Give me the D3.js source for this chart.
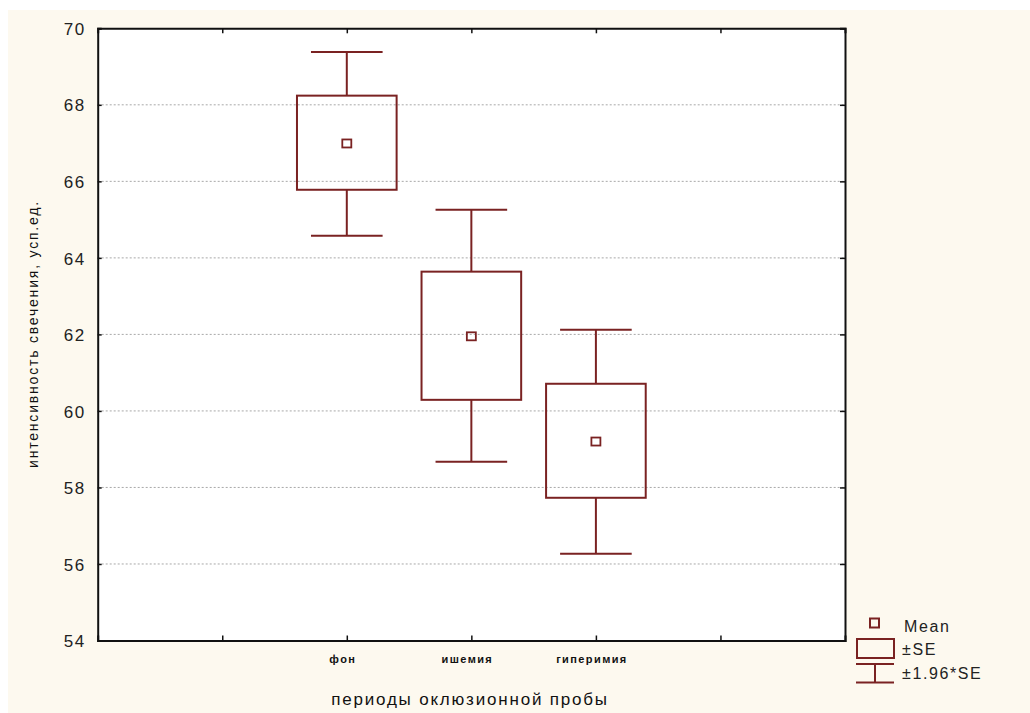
<!DOCTYPE html>
<html><head><meta charset="utf-8">
<script src="https://cdn.jsdelivr.net/npm/d3@7"></script>
<style>body{margin:0;background:#fff}svg{display:block}</style>
</head><body>
<script>
// Data
const categories = ["фон", "ишемия", "гиперимия"];
const catPositions = [2, 3, 4];
const means = [66.99, 61.95, 59.20];
const seLow = [65.78, 60.29, 57.73];
const seHigh = [68.24, 63.64, 60.71];
const ciLow = [64.58, 58.67, 56.27];
const ciHigh = [69.38, 65.26, 62.12];
const yTicks = [54, 56, 58, 60, 62, 64, 66, 68, 70];
const xTicks = [1, 2, 3, 4, 5];
const legendLabels = ["Mean", "±SE", "±1.96*SE"];

const W = 1030, H = 713;
const color = "#7a2222";
const svg = d3.select("body").append("svg").attr("width", W).attr("height", H);

svg.append("rect").attr("x", 8).attr("y", 10).attr("width", W - 8).attr("height", H - 10).attr("fill", "#fdf9ef");

const m = {left: 97.7, right: 845, top: 28.3, bottom: 640.5};
const x = d3.scaleLinear().domain([0, 6]).range([m.left, m.right]);
const y = d3.scaleLinear().domain([54, 70]).range([m.bottom, m.top]);

svg.append("rect").attr("x", m.left).attr("y", m.top).attr("width", m.right - m.left).attr("height", m.bottom - m.top).attr("fill", "#fff");

// gridlines
svg.append("g").selectAll("line").data(yTicks.filter(t => t > 54 && t < 70)).join("line")
  .attr("x1", m.left).attr("x2", m.right).attr("y1", d => y(d)).attr("y2", d => y(d))
  .attr("stroke", "#a8a8a8").attr("stroke-width", 1).attr("stroke-dasharray", "2,2");

// axes
const axL = svg.append("g").attr("transform", `translate(${m.left},0)`)
  .call(d3.axisLeft(y).tickValues(yTicks).tickSize(-4).tickPadding(12).tickFormat(d3.format("d")));
const axR = svg.append("g").attr("transform", `translate(${m.right},0)`)
  .call(d3.axisRight(y).tickValues(yTicks).tickSize(-5).tickFormat(""));
const axT = svg.append("g").attr("transform", `translate(0,${m.top})`)
  .call(d3.axisTop(x).tickValues(xTicks).tickSize(-5).tickFormat(""));
const axB = svg.append("g").attr("transform", `translate(0,${m.bottom})`)
  .call(d3.axisBottom(x).tickValues(xTicks).tickSize(-5).tickFormat(""));
[axL, axR, axT, axB].forEach(a => {
  a.select(".domain").attr("stroke", "#111").attr("stroke-width", 2);
  a.selectAll(".tick line").attr("stroke", "#111").attr("stroke-width", 1.5);
});
axL.selectAll(".tick text").attr("font-family", "Liberation Sans, Arial, sans-serif")
  .attr("font-size", 17).attr("fill", "#222").attr("letter-spacing", 1.5).attr("dy", "0.36em");

// category labels
svg.append("g").selectAll("text").data(categories).join("text")
  .attr("x", (d, i) => x(catPositions[i]) - 4).attr("y", 663)
  .attr("text-anchor", "middle").attr("font-family", "Liberation Sans, Arial, sans-serif")
  .attr("font-weight", "bold").attr("font-size", 11).attr("letter-spacing", 1.4)
  .attr("fill", "#111").text(d => d);

// axis titles
svg.append("text").attr("x", 470).attr("y", 705).attr("text-anchor", "middle")
  .attr("font-family", "Liberation Sans, Arial, sans-serif").attr("font-size", 17)
  .attr("letter-spacing", 1.8).attr("fill", "#111").text("периоды оклюзионной пробы");
svg.append("text").attr("transform", "translate(38,334) rotate(-90)").attr("text-anchor", "middle")
  .attr("font-family", "Liberation Sans, Arial, sans-serif").attr("font-size", 14)
  .attr("letter-spacing", 1.8).attr("fill", "#111").text("интенсивность свечения, усп.ед.");

// box plots
const bw = (x(1) - x(0)) * 0.8, cw = (x(1) - x(0)) * 0.575;
const g = svg.append("g").attr("stroke", color).attr("stroke-width", 2).attr("fill", "none");
categories.forEach((c, i) => {
  const cx = x(catPositions[i]);
  g.append("line").attr("x1", cx).attr("x2", cx).attr("y1", y(ciHigh[i])).attr("y2", y(seHigh[i]));
  g.append("line").attr("x1", cx).attr("x2", cx).attr("y1", y(seLow[i])).attr("y2", y(ciLow[i]));
  g.append("line").attr("x1", cx - cw / 2).attr("x2", cx + cw / 2).attr("y1", y(ciHigh[i])).attr("y2", y(ciHigh[i]));
  g.append("line").attr("x1", cx - cw / 2).attr("x2", cx + cw / 2).attr("y1", y(ciLow[i])).attr("y2", y(ciLow[i]));
  g.append("rect").attr("x", cx - bw / 2).attr("y", y(seHigh[i])).attr("width", bw).attr("height", y(seLow[i]) - y(seHigh[i]));
  g.append("rect").attr("x", cx - 4.5).attr("y", y(means[i]) - 4).attr("width", 9).attr("height", 8).attr("stroke-width", 1.8);
});

// legend
const lg = svg.append("g");
lg.append("rect").attr("x", 870).attr("y", 618.5).attr("width", 9).attr("height", 9)
  .attr("fill", "none").attr("stroke", color).attr("stroke-width", 2);
lg.append("rect").attr("x", 857).attr("y", 639).attr("width", 37).attr("height", 19)
  .attr("fill", "none").attr("stroke", color).attr("stroke-width", 2);
lg.append("line").attr("x1", 856).attr("x2", 894).attr("y1", 664).attr("y2", 664).attr("stroke", color).attr("stroke-width", 2);
lg.append("line").attr("x1", 856).attr("x2", 894).attr("y1", 682.5).attr("y2", 682.5).attr("stroke", color).attr("stroke-width", 2);
lg.append("line").attr("x1", 875).attr("x2", 875).attr("y1", 664).attr("y2", 682.5).attr("stroke", color).attr("stroke-width", 2);
const ly = [626, 649, 673];
lg.selectAll("text").data(legendLabels).join("text")
  .attr("x", (d, i) => i === 0 ? 904 : 902).attr("y", (d, i) => ly[i]).attr("dy", "0.36em")
  .attr("font-family", "Liberation Sans, Arial, sans-serif").attr("font-size", 16)
  .attr("letter-spacing", 1.6).attr("fill", "#222").text(d => d);
</script>
</body></html>
